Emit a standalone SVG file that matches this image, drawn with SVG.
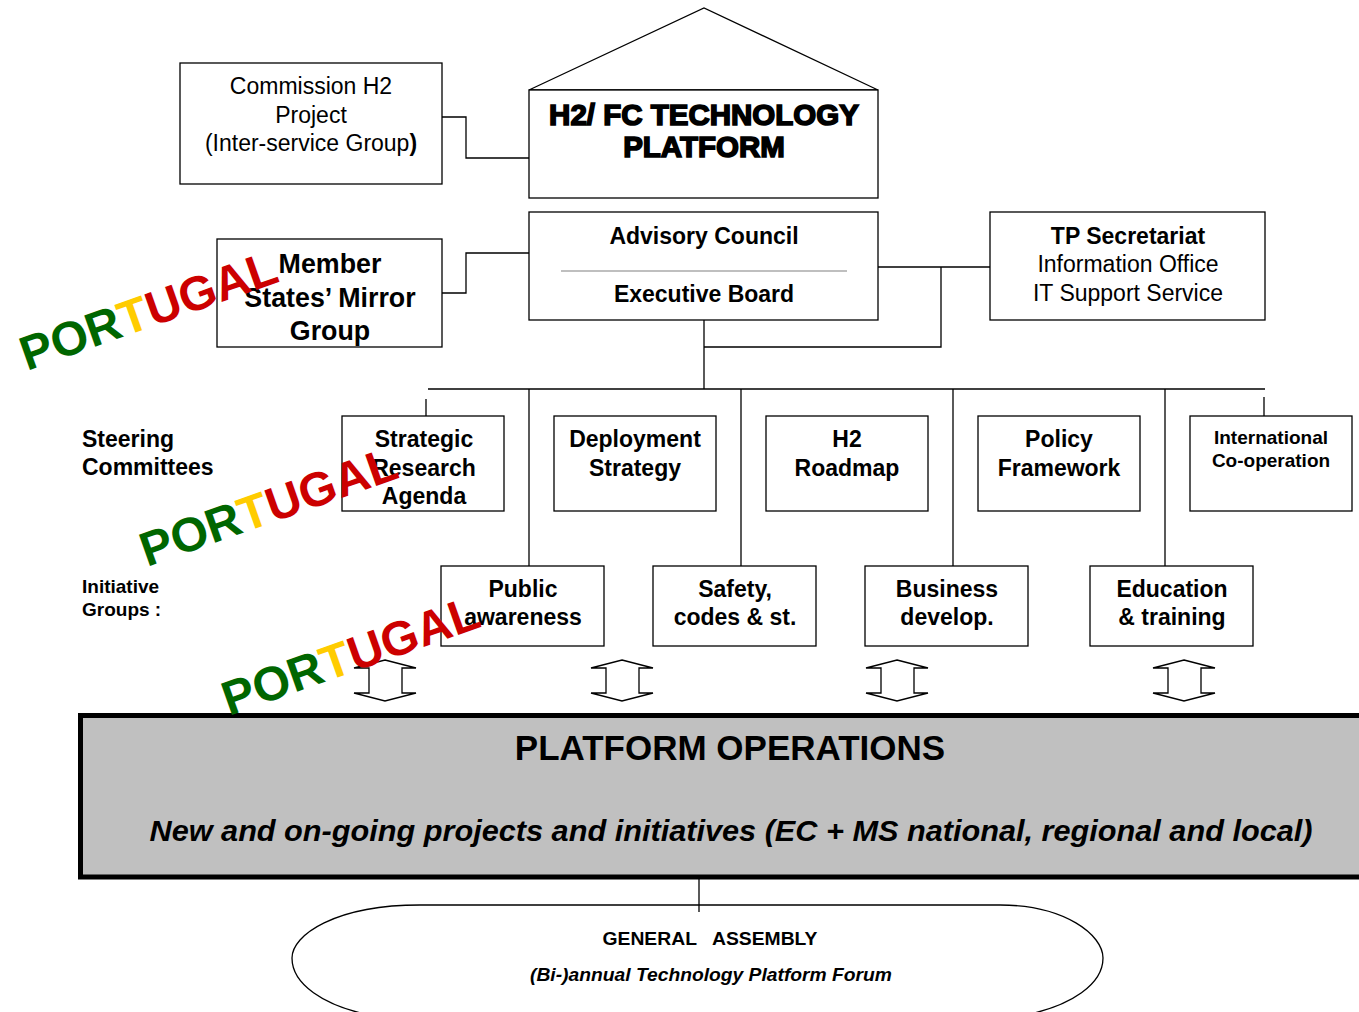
<svg xmlns="http://www.w3.org/2000/svg" width="1359" height="1012" viewBox="0 0 1359 1012">
<style>
.bx{fill:#fff;stroke:#000;stroke-width:1.3}
.ln{fill:none;stroke:#000;stroke-width:1.3}
.t{font-family:"Liberation Sans",Arial,sans-serif;fill:#000;text-anchor:middle}
.st{text-anchor:start}
.b{font-weight:bold}
.r{font-size:23px}
.s{font-size:23px;font-weight:bold}
.pt{font-family:"Liberation Sans",Arial,sans-serif;font-weight:bold;font-size:48px}
.g{fill:#006600}.y{fill:#FFCC00}.rd{fill:#CC0000}
.arr{fill:#fff;stroke:#000;stroke-width:1.3;stroke-linejoin:miter}
</style>
<rect width="1359" height="1012" fill="#fff"/>

<g id="connectors">
<polyline class="ln" points="442,117 466,117 466,158 529,158"/>
<polyline class="ln" points="442,293 466,293 466,253 529,253"/>
<line class="ln" x1="878" y1="267" x2="990" y2="267"/>
<polyline class="ln" points="941,267 941,347 704,347"/>
<line class="ln" x1="704" y1="320" x2="704" y2="389"/>
<line class="ln" x1="428" y1="389" x2="1265" y2="389"/>
<line class="ln" x1="426" y1="399" x2="426" y2="428"/>
<line class="ln" x1="1264" y1="397" x2="1264" y2="427"/>
<line class="ln" x1="529" y1="389" x2="529" y2="566"/>
<line class="ln" x1="741" y1="389" x2="741" y2="566"/>
<line class="ln" x1="953" y1="389" x2="953" y2="566"/>
<line class="ln" x1="1165" y1="389" x2="1165" y2="566"/>
<line class="ln" x1="699" y1="870" x2="699" y2="912"/>
</g>

<g id="commission">
<rect class="bx" x="180" y="63" width="262" height="121"/>
<text class="t r" x="311" y="94">Commission H2</text>
<text class="t r" x="311" y="123">Project</text>
<text class="t r" x="311" y="151">(Inter-service Group<tspan font-weight="bold">)</tspan></text>
</g>

<g id="platform">
<polygon class="bx" points="529,90 704,8 878,90"/>
<rect class="bx" x="529" y="90" width="349" height="108"/>
<text class="t b" x="704" y="125" font-size="29.5" stroke="#000" stroke-width="1.6">H2/ FC TECHNOLOGY</text>
<text class="t b" x="704" y="157" font-size="29.5" stroke="#000" stroke-width="1.6">PLATFORM</text>
</g>

<g id="advisory">
<rect class="bx" x="529" y="212" width="349" height="108"/>
<text class="t s" x="704" y="244">Advisory Council</text>
<line x1="561" y1="271" x2="847" y2="271" stroke="#808080" stroke-width="1.2"/>
<text class="t s" x="704" y="302">Executive Board</text>
</g>

<g id="member-states">
<rect class="bx" x="217" y="239" width="225" height="108"/>
<text class="t b" x="330" y="273" font-size="26.8">Member</text>
<text class="t b" x="330" y="307" font-size="26.8">States’ Mirror</text>
<text class="t b" x="330" y="340" font-size="26.8">Group</text>
</g>

<g id="secretariat">
<rect class="bx" x="990" y="212" width="275" height="108"/>
<text class="t s" x="1128" y="244">TP Secretariat</text>
<text class="t r" x="1128" y="272">Information Office</text>
<text class="t r" x="1128" y="301">IT Support Service</text>
</g>

<g id="labels">
<text class="t st b" x="82" y="447" font-size="23">Steering</text>
<text class="t st b" x="82" y="475" font-size="23">Committees</text>
<text class="t st b" x="82" y="593" font-size="19">Initiative</text>
<text class="t st b" x="82" y="616" font-size="19">Groups :</text>
</g>

<g id="sra">
<rect class="bx" x="342" y="416" width="162" height="95"/>
<text class="t s" x="424" y="447">Strategic</text>
<text class="t s" x="424" y="476">Research</text>
<text class="t s" x="424" y="504">Agenda</text>
</g>
<g id="deployment">
<rect class="bx" x="554" y="416" width="162" height="95"/>
<text class="t s" x="635" y="447">Deployment</text>
<text class="t s" x="635" y="476">Strategy</text>
</g>
<g id="roadmap">
<rect class="bx" x="766" y="416" width="162" height="95"/>
<text class="t s" x="847" y="447">H2</text>
<text class="t s" x="847" y="476">Roadmap</text>
</g>
<g id="policy">
<rect class="bx" x="978" y="416" width="162" height="95"/>
<text class="t s" x="1059" y="447">Policy</text>
<text class="t s" x="1059" y="476">Framework</text>
</g>
<g id="international">
<rect class="bx" x="1190" y="416" width="162" height="95"/>
<text class="t b" x="1271" y="444" font-size="19">International</text>
<text class="t b" x="1271" y="467" font-size="19">Co-operation</text>
</g>

<g id="public">
<rect class="bx" x="441" y="566" width="163" height="80"/>
<text class="t s" x="523" y="597">Public</text>
<text class="t s" x="523" y="625">awareness</text>
</g>
<g id="safety">
<rect class="bx" x="653" y="566" width="163" height="80"/>
<text class="t s" x="735" y="597">Safety,</text>
<text class="t s" x="735" y="625">codes &amp; st.</text>
</g>
<g id="business">
<rect class="bx" x="865" y="566" width="163" height="80"/>
<text class="t s" x="947" y="597">Business</text>
<text class="t s" x="947" y="625">develop.</text>
</g>
<g id="education">
<rect class="bx" x="1090" y="566" width="163" height="80"/>
<text class="t s" x="1172" y="597">Education</text>
<text class="t s" x="1172" y="625">&amp; training</text>
</g>

<defs>
<polygon id="dbl" class="arr" points="0,0 31,8 17,8 17,33 31,33 0,41 -31,33 -16,33 -16,8 -31,8"/>
</defs>
<g id="arrows">
<use href="#dbl" x="385" y="660"/>
<use href="#dbl" x="622" y="660"/>
<use href="#dbl" x="897" y="660"/>
<use href="#dbl" x="1184" y="660"/>
</g>

<g id="operations">
<rect x="80.5" y="715.5" width="1290" height="161.5" fill="#c0c0c0" stroke="#000" stroke-width="5"/>
<text class="t b" x="730" y="760" font-size="35">PLATFORM OPERATIONS</text>
<text class="t b" x="731" y="841" font-size="30" font-style="italic" textLength="1163" lengthAdjust="spacingAndGlyphs">New and on-going projects and initiatives (EC + MS national, regional and local)</text>
</g>

<g id="assembly">
<path class="ln" d="M420 905 L1000 905 C1065 905 1103 935 1103 958 C1103 985 1070 1005 1030 1014 M420 905 C335 905 292 935 292 958 C292 985 325 1005 365 1014"/>
<text class="t b" x="710" y="945" font-size="18" textLength="215" lengthAdjust="spacingAndGlyphs" xml:space="preserve">GENERAL   ASSEMBLY</text>
<text class="t b" x="711" y="981" font-size="19" font-style="italic" textLength="362" lengthAdjust="spacingAndGlyphs">(Bi-)annual Technology Platform Forum</text>
</g>

<g id="watermarks">
<text class="pt" transform="translate(27,371) rotate(-19.5)"><tspan class="g">POR</tspan><tspan class="y">T</tspan><tspan class="rd">UGAL</tspan></text>
<text class="pt" transform="translate(147,567) rotate(-19.5)"><tspan class="g">POR</tspan><tspan class="y">T</tspan><tspan class="rd">UGAL</tspan></text>
<text class="pt" transform="translate(229,716) rotate(-19.5)"><tspan class="g">POR</tspan><tspan class="y">T</tspan><tspan class="rd">UGAL</tspan></text>
</g>
</svg>
